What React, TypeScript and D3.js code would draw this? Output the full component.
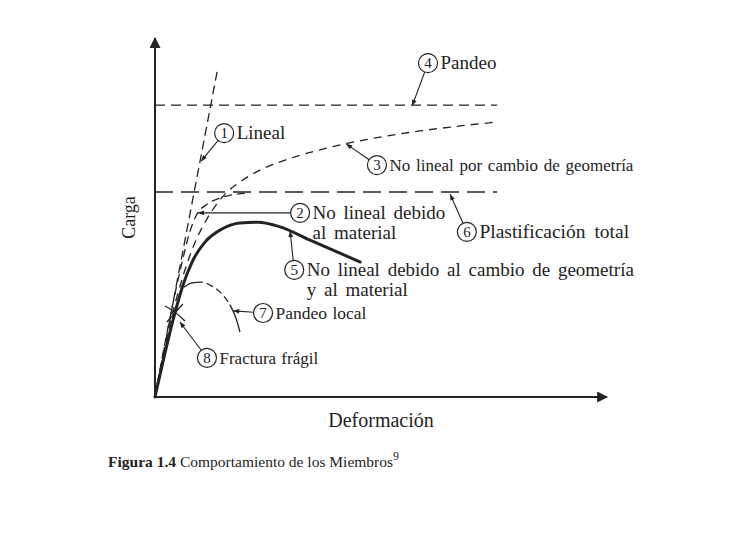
import React from "react";
import * as d3 from "d3";

// load vs deformation, both in % of the drawn axis length
const lineal = [
  [0, 0],
  [13.9, 91.6],
];
const pandeoLevel = 81.3;
const plastLevel = 57.1;
const levelEnd = 75.7;

const geomCurve = [
  [0, 0], [3.5, 21.4], [6.2, 33.7], [8.8, 42.9], [11.5, 49.6], [13.7, 53.8],
  [15.7, 56.8], [18.8, 59.9], [23.2, 63.2], [28.8, 66.0], [35.4, 68.5],
  [42.0, 70.5], [49.8, 72.4], [58.6, 74.1], [67.5, 75.5], [75.7, 76.6],
];
const matCurve = [
  [0, 0], [3.3, 22.0], [6.0, 37.6], [7.7, 46.0], [9.3, 51.0], [11.3, 53.5],
  [13.9, 55.2], [17.0, 56.3], [21.0, 56.8],
];
const bothCurve = [
  [0, 0], [4.4, 23.4], [6.2, 31.2], [8.2, 37.6], [11.1, 43.2], [14.8, 46.8],
  [18.8, 48.5], [22.8, 48.7], [27.7, 47.4], [34.3, 43.7], [45.4, 37.6],
];
const localCurve = [
  [6.4, 30.6], [8.2, 31.8], [10.2, 32.0], [12.6, 30.9], [14.8, 28.7],
  [16.6, 25.6], [17.9, 22.0], [18.8, 18.1],
];
const fracturePoint = [4.4, 23.4];

// numbered callouts: circle position, arrow tip, text lines
const noteIds = ["1", "2", "3", "4", "5", "6", "7", "8"];
const noteText = [
  ["Lineal"],
  ["No lineal debido", "al material"],
  ["No lineal por cambio de geometría"],
  ["Pandeo"],
  ["No lineal debido al cambio de geometría", "y al material"],
  ["Plastificación total"],
  ["Pandeo local"],
  ["Fractura frágil"],
];
const noteAt = [
  [15.3, 73.5], [32.1, 51.3], [49.1, 64.6], [60.4, 93.0],
  [30.8, 35.4], [69.0, 46.0], [23.9, 23.4], [11.5, 10.9],
];
const noteTip = [
  [10.2, 65.7], [9.5, 51.3], [42.3, 70.5], [56.9, 81.1],
  [29.9, 46.2], [65.3, 56.5], [17.3, 24.0], [5.5, 20.9],
];
// the scan's type is set a little unevenly, so size/spacing per callout
const noteSize = [19, 19, 17, 19, 19, 19.5, 17.5, 17];
const noteSpacing = [0, 3, 1.5, 0, 3, 4, 1, 1];

const W = 745;
const H = 535;
const ink = "#232323";
const serif = "'Liberation Serif', 'DejaVu Serif', serif";

const App = () => {
  const x = d3.scaleLinear().domain([0, 100]).range([155, 607]);
  const y = d3.scaleLinear().domain([0, 100]).range([397, 38]);

  const smooth = d3
    .line()
    .x((d) => x(d[0]))
    .y((d) => y(d[1]))
    .curve(d3.curveMonotoneX);
  const straight = d3
    .line()
    .x((d) => x(d[0]))
    .y((d) => y(d[1]));

  const r = 9.5;
  const fx = x(fracturePoint[0]);
  const fy = y(fracturePoint[1]);

  return (
    <svg
      width={W}
      height={H}
      style={{ position: "absolute", left: 0, top: 0, background: "#fff" }}
      fontFamily={serif}
    >
      <defs>
        <marker id="tip" viewBox="0 0 10 10" refX="10" refY="5" markerWidth="7" markerHeight="6" orient="auto" markerUnits="userSpaceOnUse">
          <path d="M0,1 L10,5 L0,9 z" fill={ink} />
        </marker>
        <marker id="axisTip" viewBox="0 0 10 10" refX="9" refY="5" markerWidth="13" markerHeight="11" orient="auto" markerUnits="userSpaceOnUse">
          <path d="M0,0 L10,5 L0,10 z" fill={ink} />
        </marker>
      </defs>

      {/* axes */}
      <line x1={x(0)} y1={y(0)} x2={x(0)} y2={y(100)} stroke={ink} strokeWidth={2} markerEnd="url(#axisTip)" />
      <line x1={x(0)} y1={y(0)} x2={x(100)} y2={y(0)} stroke={ink} strokeWidth={2} markerEnd="url(#axisTip)" />

      {/* limit loads */}
      <line x1={x(0)} y1={y(pandeoLevel)} x2={x(levelEnd)} y2={y(pandeoLevel)} stroke={ink} strokeWidth={1.3} strokeDasharray="10 6" />
      <line x1={x(0)} y1={y(plastLevel)} x2={x(levelEnd)} y2={y(plastLevel)} stroke={ink} strokeWidth={1.6} strokeDasharray="18 8" />

      {/* curves */}
      <path d={straight(lineal)} fill="none" stroke={ink} strokeWidth={1.3} strokeDasharray="9 5" />
      <path d={smooth(geomCurve)} fill="none" stroke={ink} strokeWidth={1.3} strokeDasharray="8 6" />
      <path d={smooth(matCurve)} fill="none" stroke={ink} strokeWidth={1.3} strokeDasharray="8 5" />
      <path d={smooth(bothCurve)} fill="none" stroke={ink} strokeWidth={3} strokeLinecap="round" />
      <path d={smooth(localCurve)} fill="none" stroke={ink} strokeWidth={1.3} strokeDasharray="20 4 7 4 7 4 7 3 200" />

      {/* brittle fracture mark */}
      <path d={`M${fx - 10},${fy - 7} Q${fx},${fy - 2} ${fx + 10},${fy + 8}`} fill="none" stroke={ink} strokeWidth={1.3} />
      <path d={`M${fx - 8},${fy + 9} Q${fx},${fy} ${fx + 8},${fy - 9}`} fill="none" stroke={ink} strokeWidth={1.3} />

      {/* callouts */}
      {noteIds.map((id, i) => {
        const cx = x(noteAt[i][0]);
        const cy = y(noteAt[i][1]);
        const tx = x(noteTip[i][0]);
        const ty = y(noteTip[i][1]);
        const a = Math.atan2(ty - cy, tx - cx);
        return (
          <g key={id}>
            <line x1={cx + r * Math.cos(a)} y1={cy + r * Math.sin(a)} x2={tx} y2={ty} stroke={ink} strokeWidth={1.1} markerEnd="url(#tip)" />
            <circle cx={cx} cy={cy} r={r} fill="#fff" stroke={ink} strokeWidth={1.2} />
            <text x={cx} y={cy + 5} textAnchor="middle" fontSize={15} fill={ink}>{id}</text>
            {noteText[i].map((t, j) => (
              <text key={j} x={cx + r + 3} y={cy + 6 + j * 20} fontSize={noteSize[i]} wordSpacing={noteSpacing[i]} fill={ink}>{t}</text>
            ))}
          </g>
        );
      })}

      {/* axis titles */}
      <text transform={`translate(${x(0) - 20},${y(50)}) rotate(-90)`} textAnchor="middle" fontSize={18} fill={ink}>Carga</text>
      <text x={(x(0) + x(100)) / 2} y={y(0) + 30} textAnchor="middle" fontSize={20} fill={ink}>Deformación</text>

      {/* caption */}
      <text x={108} y={467} fontSize={15.5} fill={ink}>
        <tspan fontWeight="bold">Figura 1.4</tspan>
        <tspan> Comportamiento de los Miembros</tspan>
        <tspan dy={-7} fontSize={12}>9</tspan>
      </text>
    </svg>
  );
};

export default App;
